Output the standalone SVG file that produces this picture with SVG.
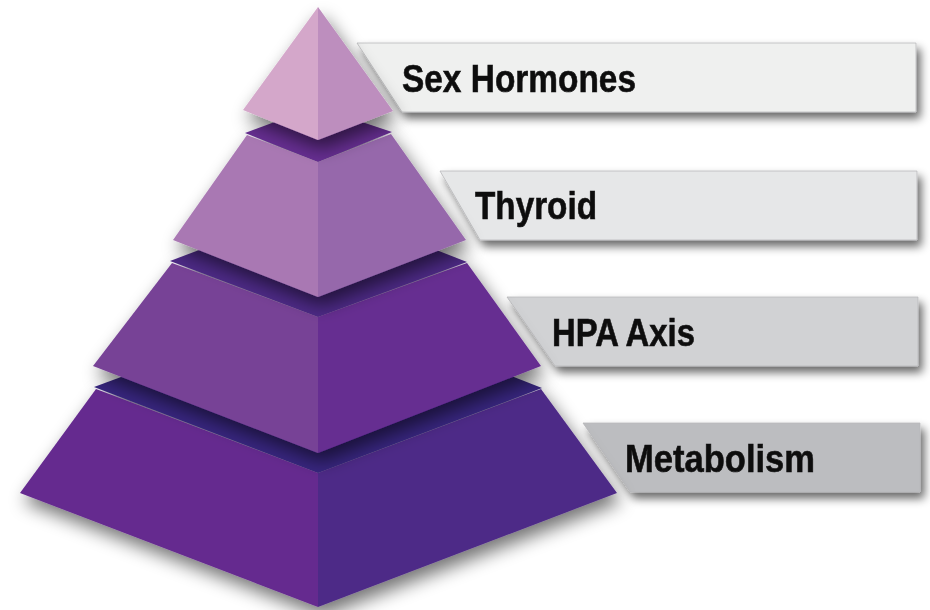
<svg xmlns="http://www.w3.org/2000/svg" width="930" height="610" viewBox="0 0 930 610">
<defs>
<filter id="sh" x="-25%" y="-25%" width="150%" height="160%">
<feGaussianBlur in="SourceAlpha" stdDeviation="9"/>
<feOffset dx="4" dy="9" result="b"/>
<feComponentTransfer><feFuncA type="linear" slope="0.55"/></feComponentTransfer>
<feMerge><feMergeNode/><feMergeNode in="SourceGraphic"/></feMerge>
</filter>
<filter id="lsh" x="-10%" y="-30%" width="120%" height="170%">
<feGaussianBlur in="SourceAlpha" stdDeviation="5"/>
<feOffset dx="4" dy="6" result="b"/>
<feComponentTransfer><feFuncA type="linear" slope="0.6"/></feComponentTransfer>
<feMerge><feMergeNode/><feMergeNode in="SourceGraphic"/></feMerge>
</filter>
</defs>
<style>
.lbl{font-family:"Liberation Sans",Arial,sans-serif;font-weight:bold;font-size:38px;fill:#111;stroke:#111;stroke-width:0.6;}
.box{stroke:#b9b9bb;stroke-width:0.8;}
</style>
<rect width="930" height="610" fill="#ffffff"/>

<g id="label-sex-hormones" filter="url(#lsh)">
<polygon class="box" points="357,43 916,43 916,112 402,112" fill="#eff0ef"/>
<text class="lbl" x="402" y="92" textLength="234" lengthAdjust="spacingAndGlyphs">Sex Hormones</text>
</g>
<g id="label-thyroid" filter="url(#lsh)">
<polygon class="box" points="440,171 917,171 917,240 480,240" fill="#e6e7e8"/>
<text class="lbl" x="475" y="219" textLength="122" lengthAdjust="spacingAndGlyphs">Thyroid</text>
</g>
<g id="label-hpa-axis" filter="url(#lsh)">
<polygon class="box" points="507,297 918,297 918,366 555,366" fill="#d1d2d4"/>
<text class="lbl" x="552" y="346" textLength="143" lengthAdjust="spacingAndGlyphs">HPA Axis</text>
</g>
<g id="label-metabolism" filter="url(#lsh)">
<polygon class="box" points="583,423 920,423 920,492 630,492" fill="#bcbdc0"/>
<text class="lbl" x="625" y="472" textLength="190" lengthAdjust="spacingAndGlyphs">Metabolism</text>
</g>

<g id="tier-metabolism" filter="url(#sh)">
<polygon points="94,387 140,370 318,340 496,370 542,388 318,473" fill="#38287f"/>
<polygon points="96,389 318,473 318,607 20,493" fill="#652a8f"/>
<polygon points="318,473 541,389 617,493 318,607" fill="#4e2a87"/>
</g>
<g id="tier-hpa-axis" filter="url(#sh)">
<polygon points="170,261 215,244 318,230 421,244 467,262 318,317" fill="#4e2a86"/>
<polygon points="172,263 318,317 318,453 93,366" fill="#774296"/>
<polygon points="318,317 467,263 541,366 318,453" fill="#662d91"/>
</g>
<g id="tier-thyroid" filter="url(#sh)">
<polygon points="245,133 280,120 318,118 356,120 392,132 318,162" fill="#662d91"/>
<polygon points="247,135 318,162 318,297 173,240" fill="#a978b3"/>
<polygon points="318,162 391,134 466,240 318,297" fill="#9668ab"/>
</g>
<g id="tier-sex-hormones" filter="url(#sh)">
<polygon points="318,7 318,140 243,110" fill="#d4a7ca"/>
<polygon points="318,7 393,111 318,140" fill="#bd8ebe"/>
</g>
</svg>
